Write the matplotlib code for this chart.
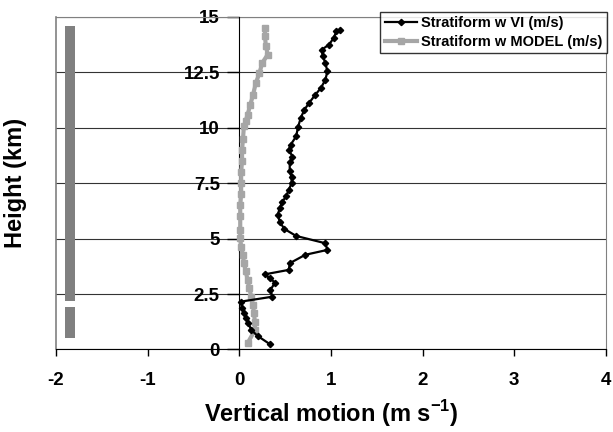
import matplotlib
matplotlib.use("Agg")
import matplotlib.pyplot as plt

plt.rcParams["font.family"] = ["Liberation Sans", "DejaVu Sans"]
plt.rcParams["font.weight"] = "bold"
plt.rcParams["axes.unicode_minus"] = False
plt.rcParams["mathtext.fontset"] = "custom"
plt.rcParams["mathtext.rm"] = "Liberation Sans:bold"

# Stratiform w VI (m/s)
vi_w = [0.33, 0.20, 0.13, 0.10, 0.07, 0.05, 0.03, 0.02, 0.36, 0.34, 0.39, 0.33, 0.28,
        0.54, 0.55, 0.72, 0.96, 0.94, 0.62, 0.49, 0.44, 0.42, 0.44, 0.47, 0.51, 0.54,
        0.57, 0.57, 0.55, 0.55, 0.58, 0.54, 0.56, 0.62, 0.64, 0.67, 0.71, 0.76, 0.83,
        0.89, 0.94, 0.96, 0.94, 0.91, 0.90, 0.98, 1.03, 1.06, 1.10]
vi_h = [0.25, 0.61, 0.88, 1.18, 1.41, 1.63, 1.86, 2.16, 2.38, 2.69, 3.02, 3.21, 3.39,
        3.59, 3.89, 4.27, 4.49, 4.79, 5.12, 5.44, 5.77, 6.07, 6.37, 6.67, 6.90, 7.20,
        7.50, 7.76, 8.06, 8.45, 8.70, 9.00, 9.23, 9.61, 10.02, 10.44, 10.81, 11.11, 11.49,
        11.79, 12.17, 12.54, 12.92, 13.22, 13.52, 13.75, 14.05, 14.35, 14.42]

# Stratiform w MODEL (m/s)
model_w = [0.09, 0.17, 0.17, 0.16, 0.15, 0.13, 0.11, 0.09, 0.07, 0.05, 0.04, 0.02,
           0.01, 0.01, 0.01, 0.01, 0.02, 0.02, 0.02, 0.03, 0.03, 0.04, 0.05, 0.07,
           0.09, 0.12, 0.15, 0.18, 0.22, 0.25, 0.31, 0.29, 0.28, 0.28]
model_h = [0.28, 0.88, 1.25, 1.63, 2.00, 2.38, 2.76, 3.14, 3.52, 3.89, 4.27, 4.64,
           5.02, 5.40, 6.00, 6.50, 7.00, 7.50, 8.00, 8.50, 9.00, 9.50, 10.06, 10.30,
           10.59, 11.04, 11.49, 12.02, 12.47, 12.92, 13.30, 13.67, 14.12, 14.50]

# gray column near the left edge
col_x = -1.85
col_bottom = [0.53, 2.19]
col_top = [1.92, 14.6]

x_ticks = [-2, -1, 0, 1, 2, 3, 4]
y_ticks = [0, 2.5, 5, 7.5, 10, 12.5, 15]
y_tick_labels = ["0", "2.5", "5", "7.5", "10", "12.5", "15"]

fig = plt.figure(figsize=(6.13, 4.32), dpi=100)
ax = fig.add_axes([0.0914, 0.191, 0.897, 0.770])

# y axis sits at x = 0 (set before the ticks, it resets them)
ax.spines["left"].set_position(("data", 0))
ax.spines["left"].set_color("black")
ax.spines["bottom"].set_color("black")
ax.spines["top"].set_color("#808080")
ax.spines["right"].set_color("#808080")
ax.spines["top"].set_zorder(1.5)

for b, t in zip(col_bottom, col_top):
    ax.plot([col_x, col_x], [b, t], color="#808080", lw=7.2, solid_capstyle="butt")

ax.plot(model_w, model_h, color="#a6a6a6", lw=3, marker="s", ms=5, mec="#a6a6a6",
        label="Stratiform w MODEL (m/s)", zorder=3)
ax.plot(vi_w, vi_h, color="black", lw=1.6, marker="D", ms=3.2,
        label="Stratiform w VI (m/s)", zorder=4)

ax.set_xlim(-2, 4)
ax.set_ylim(0, 15)
ax.set_xticks(x_ticks, [str(v) for v in x_ticks], fontweight="bold", fontsize=13.5)
ax.set_yticks(y_ticks, y_tick_labels, fontweight="bold", fontsize=13.5)
ax.yaxis.grid(True, color="#333333", lw=0.8)
ax.set_axisbelow(True)
ax.axvline(-2, color="#808080", lw=1.2, clip_on=False)

ax.tick_params(axis="x", direction="out", length=5, width=1, pad=11)
ax.tick_params(axis="y", direction="out", length=9, width=1, pad=5)

ax.set_xlabel("Vertical motion (m s$^{\\mathrm{-1}}$)", fontsize=17, fontweight="bold", labelpad=7)
ax.set_ylabel("Height (km)", fontsize=17, fontweight="bold")
ax.yaxis.set_label_coords(-0.052, 0.5, transform=ax.transAxes)

handles, labels = ax.get_legend_handles_labels()
leg = fig.legend(handles[::-1], labels[::-1], loc="upper right",
                 bbox_to_anchor=(607 / 613, 1 - 12 / 432), fontsize=10.5,
                 frameon=True, fancybox=False, handlelength=2.2, borderpad=0.3,
                 labelspacing=0.3, handletextpad=0.3, borderaxespad=0)
leg.get_frame().set_edgecolor("black")
leg.get_frame().set_linewidth(1)
for t in leg.get_texts():
    t.set_fontweight("bold")

fig.savefig("out.png", dpi=100)
